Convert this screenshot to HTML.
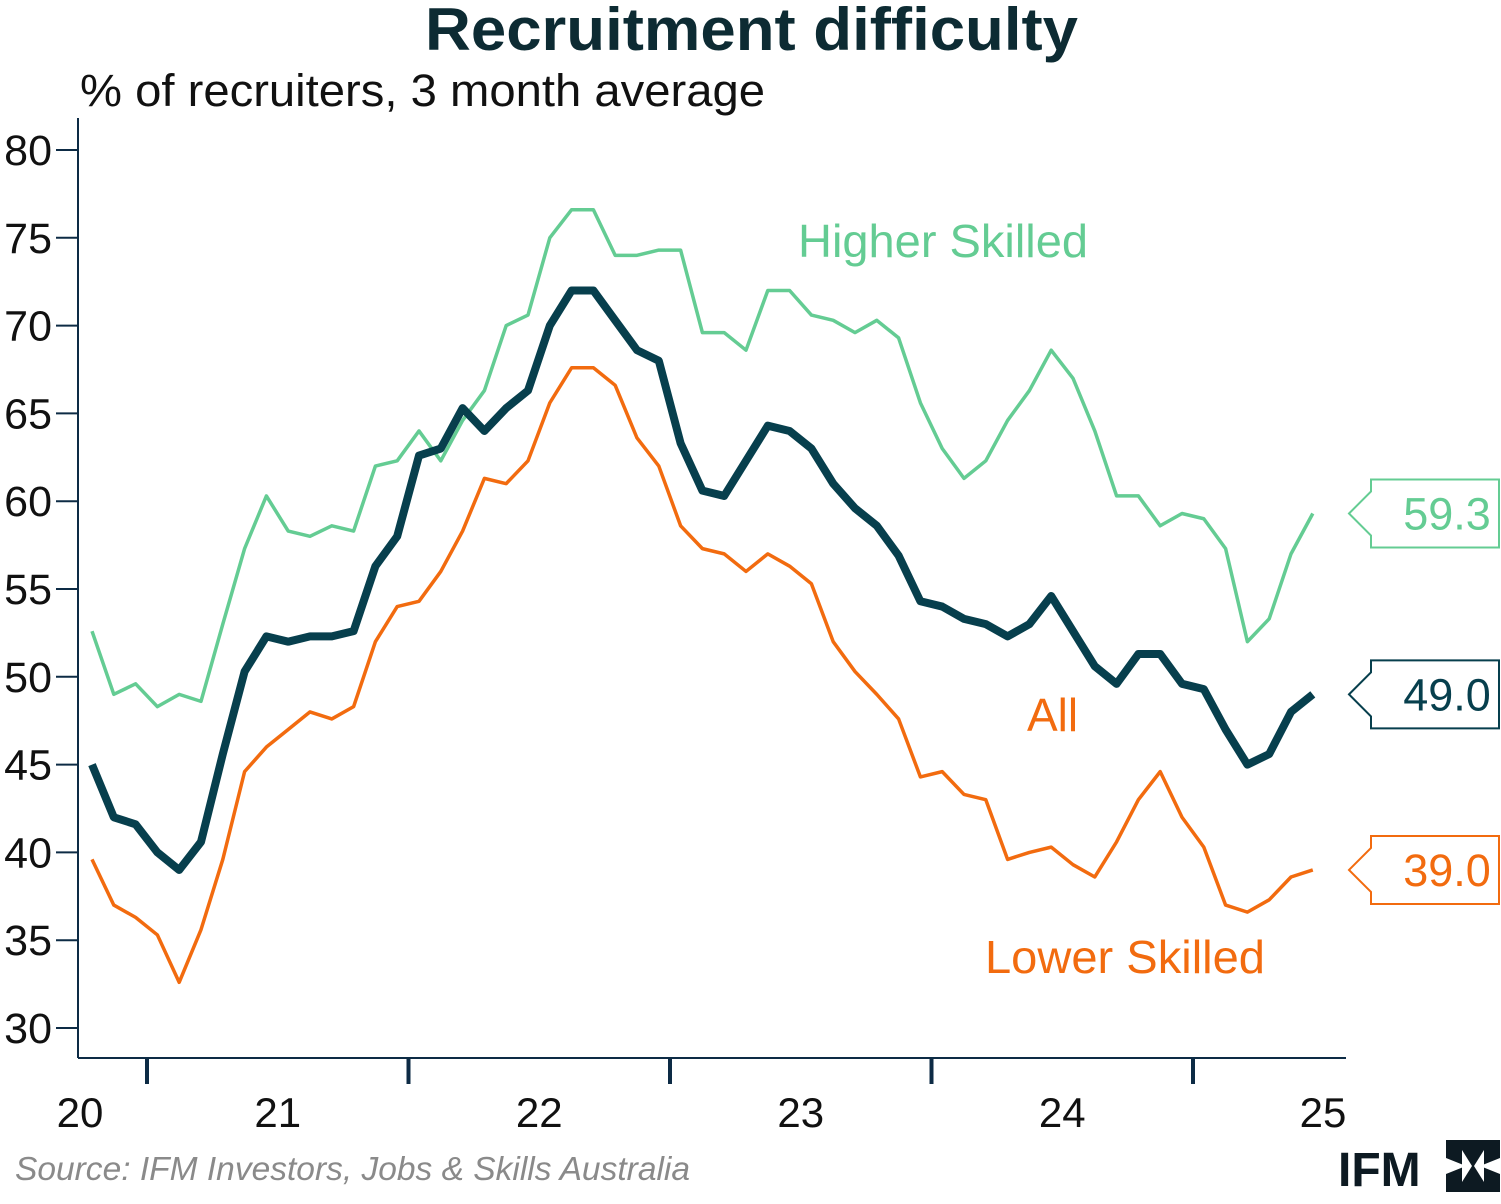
<!DOCTYPE html>
<html><head><meta charset="utf-8"><style>
body{margin:0;background:#fff;}
svg{display:block;font-family:"Liberation Sans",Arial,sans-serif;}
</style></head><body>
<svg id="chart" width="1501" height="1204" viewBox="0 0 1501 1204">
<text x="425" y="50" font-size="60" font-weight="bold" fill="#0d2b33" textLength="653" lengthAdjust="spacingAndGlyphs">Recruitment difficulty</text>
<text x="80" y="106" font-size="45" fill="#111" textLength="685" lengthAdjust="spacingAndGlyphs">% of recruiters, 3 month average</text>
<g id="axes"></g>
<g id="series"></g>
<g id="labels"></g>
<text x="985" y="973" font-size="46" fill="#f26b0f" textLength="280" lengthAdjust="spacingAndGlyphs">Lower Skilled</text>
<text x="1027" y="731" font-size="46" fill="#f26b0f">All</text>
<text x="798" y="257" font-size="46" fill="#64cc93" textLength="290" lengthAdjust="spacingAndGlyphs">Higher Skilled</text>
<text x="15" y="1180" font-size="33" font-style="italic" fill="#8a8a8a" textLength="675" lengthAdjust="spacingAndGlyphs">Source: IFM Investors, Jobs &amp; Skills Australia</text>
<g>
<text x="1338" y="1186" font-size="48" font-weight="bold" fill="#0d1a22">IFM</text>
<path d="M1446,1140 h54 v18 l-20,8 l20,8 v18 h-54 v-18 l20,-8 l-20,-8 z" fill="#0d1a22"/>
<path d="M1462,1150 l10,16 l-10,16 z M1484,1150 l-10,16 l10,16 z" fill="#fff"/>
</g>
</svg>
<script>
const yTicks=[30,35,40,45,50,55,60,65,70,75,80];
const xLabels=["20","21","22","23","24","25"];
const higher=[52.6,49,49.6,48.3,49,48.6,53,57.3,60.3,58.3,58,58.6,58.3,62,62.3,64,62.3,64.6,66.3,70,70.6,75,76.6,76.6,74,74,74.3,74.3,69.6,69.6,68.6,72,72,70.6,70.3,69.6,70.3,69.3,65.6,63,61.3,62.3,64.6,66.3,68.6,67,64,60.3,60.3,58.6,59.3,59,57.3,52,53.3,57,59.3];
const all=[45,42,41.6,40,39,40.6,45.6,50.3,52.3,52,52.3,52.3,52.6,56.3,58,62.6,63,65.3,64,65.3,66.3,70,72,72,70.3,68.6,68,63.3,60.6,60.3,62.3,64.3,64,63,61,59.6,58.6,56.9,54.3,54,53.3,53,52.3,53,54.6,52.6,50.6,49.6,51.3,51.3,49.6,49.3,47,45,45.6,48,49];
const lower=[39.6,37,36.3,35.3,32.6,35.6,39.6,44.6,46,47,48,47.6,48.3,52,54,54.3,56,58.3,61.3,61,62.3,65.6,67.6,67.6,66.6,63.6,62,58.6,57.3,57,56,57,56.3,55.3,52,50.3,49,47.6,44.3,44.6,43.3,43,39.6,40,40.3,39.3,38.6,40.6,43,44.6,42,40.3,37,36.6,37.3,38.6,39];
const NS="http://www.w3.org/2000/svg";
const y=v=>150+(80-v)*17.56;
const x=i=>92+i*21.8;
const yearX=k=>147+(k-1)*261.5;
function mk(tag,attrs,parent){const e=document.createElementNS(NS,tag);for(const k in attrs)e.setAttribute(k,attrs[k]);parent.appendChild(e);return e;}
const ax=document.getElementById('axes');
const navy="#0d2b45";
let l=mk('line',{x1:78,y1:118,x2:78,y2:1058,stroke:navy,'stroke-width':2},ax);


l=mk('line',{x1:78,y1:1058,x2:1346,y2:1058,stroke:navy,'stroke-width':2},ax);


yTicks.forEach(v=>{
 const t=mk('line',{x1:56,y1:y(v),x2:78,y2:y(v),stroke:navy,'stroke-width':2},ax);
 
 
 const tx=mk('text',{x:52,y:y(v)+15,'text-anchor':'end','font-size':43,fill:'#111'},ax);
 tx.textContent=v;
 
 
});
for(let k=1;k<=5;k++){
 const t=mk('line',{x1:yearX(k),y1:1058,x2:yearX(k),y2:1084,stroke:navy,'stroke-width':4},ax);
 
 
}
xLabels.forEach((s,k)=>{
 let cx=k===0?80:(k===5?1323:(yearX(k)+yearX(k+1))/2);
 const tx=mk('text',{x:cx,y:1127,'text-anchor':'middle','font-size':42,fill:'#111'},ax);
 tx.textContent=s;
 
 
});
const sg=document.getElementById('series');
function line(data,color,w,name){
 const p=mk('polyline',{points:data.map((v,i)=>x(i)+','+y(v)).join(' '),fill:'none',stroke:color,'stroke-width':w,'stroke-linejoin':'round'},sg);
 
 
}
line(lower,'#f26b0f',3.5,'line-lower-skilled');
line(higher,'#64cc93',3.5,'line-higher-skilled');
line(all,'#073f4d',8,'line-all');
const lg=document.getElementById('labels');
function callout(v,color,name){
 const cy=y(v);
 const g=mk('g',{},lg);
 
 
 mk('path',{d:`M1349,${cy} L1371,${cy-22} V${cy-34} H1499 V${cy+34} H1371 V${cy+22} Z`,fill:'#fff',stroke:color,'stroke-width':2},g);
 const t=mk('text',{x:1447,y:cy+16,'text-anchor':'middle','font-size':45,fill:color},g);
 t.textContent=v.toFixed(1);
}
callout(higher[higher.length-1],'#64cc93','callout-higher-skilled');
callout(all[all.length-1],'#073f4d','callout-all');
callout(lower[lower.length-1],'#f26b0f','callout-lower-skilled');
</script>
</body></html>
